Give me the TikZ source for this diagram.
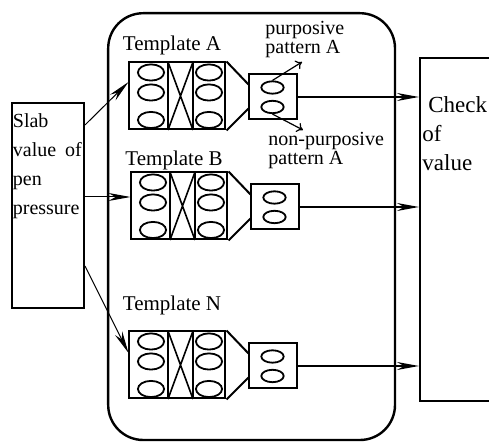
\documentclass[tikz,border=0pt]{standalone}
\usepackage{fontspec}
\setmainfont{Liberation Serif}
\usetikzlibrary{shapes.geometric,arrows.meta,calc}

\tikzset{
  tblock/.style={draw, line width=1pt, minimum width=48pt, minimum height=33.5pt, inner sep=0pt},
  smallbox/.style={draw, line width=1pt, minimum width=24pt, minimum height=22.5pt, inner sep=0pt},
  bigoval/.style={draw, ellipse, line width=0.9pt, minimum width=13.1pt, minimum height=8.1pt, inner sep=0pt},
  smalloval/.style={draw, ellipse, line width=0.9pt, minimum width=11.2pt, minimum height=6.2pt, inner sep=0pt},
  feed/.style={-{Stealth[length=11pt,width=4pt,inset=3.5pt]}, line width=0.5pt},
  result/.style={-{Stealth[length=11pt,width=4pt,inset=3.5pt]}, line width=0.8pt},
  branch/.style={-{To[length=3pt,width=5pt]}, line width=0.6pt},
  tight/.style={align=left, inner sep=0pt, font=\fontsize{10}{9.5}\selectfont}
}

\begin{document}
\begin{tikzpicture}[x=0.5pt, y=-0.5pt, font=\fontsize{10.5}{12.6}\selectfont]
    \useasboundingbox (0,0) rectangle (489,442);

    \node[draw, line width=1.2pt, rounded corners=17.5pt, minimum width=143.4pt, minimum height=213.4pt,
          inner sep=0pt, anchor=north west] (frame) at (107,12) {};

    \node[draw, line width=1pt, minimum width=36pt, minimum height=102.5pt, inner sep=0pt,
          anchor=north west] (slab) at (11,102) {};
    \node[anchor=north west, align=left, text width=34.5pt, inner sep=0pt,
          font=\fontsize{10}{14.5}\selectfont] (slabtxt) at (12.5,113.3)
          {Slab\\value\hskip 0pt plus 1fill of\\pen\\pressure};

    \node[draw, line width=1pt, minimum width=40pt, minimum height=171.5pt, inner sep=0pt,
          anchor=north west] (check) at (419,57) {};
    \node[anchor=north west, align=left, inner sep=0pt,
          font=\fontsize{11.5}{14.5}\selectfont] (checktxt) at (422,96)
          {\hspace*{3pt}Check\\of\\value};

    \foreach \n/\bx/\by/\ly in {A/129/62/45, B/131/172/160, N/129/331/305} {
        \node[tblock] (blk\n) at (\bx+48.5,\by+34) {};
        \draw[line width=1pt] (\bx+39,\by) -- (\bx+39,\by+68)
                              (\bx+64,\by) -- (\bx+64,\by+68);
        \draw[line width=0.8pt] (\bx+39,\by) -- (\bx+64,\by+68)
                                (\bx+64,\by) -- (\bx+39,\by+68);
        \foreach \k/\oy in {1/10.5, 2/30.5, 3/58} {
            \node[bigoval] (ov\n-l\k) at (\bx+22,\by+\oy) {};
            \node[bigoval] (ov\n-r\k) at (\bx+80,\by+\oy) {};
        }
        \node[smallbox] (sm\n) at (\bx+144.5,\by+35) {};
        \node[smalloval] (so\n1) at (\bx+143.5,\by+25.5) {};
        \node[smalloval] (so\n2) at (\bx+143.5,\by+45) {};
        \draw[line width=1pt] (blk\n.north east) -- ($(sm\n.north west)+(0,11)$)
                              (blk\n.south east) -- ($(sm\n.south west)+(0,-12)$);
        \node (lab\n) at (\bx+43,\ly) {Template \n};
        \draw[result] (sm\n.east) -- (sm\n.east -| check.west);
    }

    \draw[feed] ([yshift=40.25pt]slab.east) -- ([yshift=7pt]blkA.west);
    \draw[feed] ([yshift=4.25pt]slab.east) -- ([yshift=4.25pt]slab.east -| blkB.west);
    \draw[feed] ([yshift=-30.25pt]slab.east) -- ([yshift=6pt]blkN.west);

    \coordinate (pp) at (302,62);
    \coordinate (np) at (303,130);
    \draw[branch] (soA1.north) -- (pp);
    \draw[branch] (soA2.south) -- (np);
    \node[tight, anchor=north west] (plab) at (265,21) {purposive\\pattern A};
    \node[tight, anchor=north west] (nlab) at (268,131.5) {non-purposive\\pattern A};
\end{tikzpicture}
\end{document}
